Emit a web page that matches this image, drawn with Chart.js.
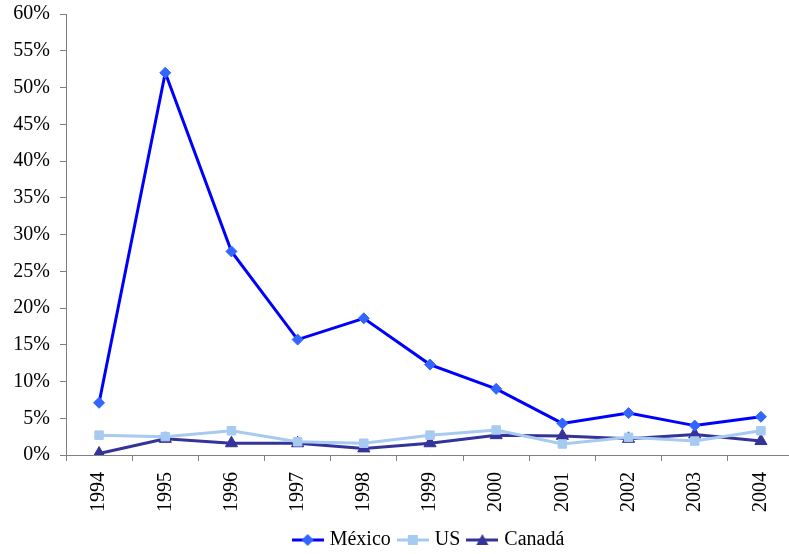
<!DOCTYPE html>
<html>
<head>
<meta charset="utf-8">
<script src="https://cdn.jsdelivr.net/npm/chart.js@4/dist/chart.umd.min.js"></script>
<style>
html,body{margin:0;padding:0;background:#fff;overflow:hidden;}
canvas{display:block;}
</style>
</head>
<body>
<canvas id="c" width="802" height="560" style="width:802px;height:560px;"></canvas>
<script>
const years = ['1994','1995','1996','1997','1998','1999','2000','2001','2002','2003','2004'];
const mexico = [7.1, 52.0, 27.7, 15.7, 18.6, 12.3, 9.0, 4.3, 5.7, 4.0, 5.2];
const us = [2.7, 2.5, 3.3, 1.8, 1.6, 2.7, 3.4, 1.5, 2.4, 1.9, 3.3];
const canada = [0.2, 2.2, 1.6, 1.6, 0.9, 1.6, 2.7, 2.6, 2.2, 2.8, 1.9];
const yTicksMax = 60, yStep = 5;

const FONT = "'Liberation Serif', 'Times New Roman', serif";
const FS = 20;

function legendIcon(lineColor, markerColor, shape){
  const c = document.createElement('canvas');
  c.width = 32; c.height = 14;
  const g = c.getContext('2d');
  g.strokeStyle = lineColor; g.lineWidth = 3;
  g.beginPath(); g.moveTo(0,7); g.lineTo(32,7); g.stroke();
  g.fillStyle = markerColor;
  g.beginPath();
  if(shape==='diamond'){ g.moveTo(16,1); g.lineTo(22,7); g.lineTo(16,13); g.lineTo(10,7); g.closePath(); }
  else if(shape==='square'){ g.rect(11,2,10,10); }
  else { g.moveTo(16,1); g.lineTo(22,12); g.lineTo(10,12); g.closePath(); }
  g.fill();
  return c;
}

const ds = [
  {label:'México', data:mexico, borderColor:'#0000FF', fill:'#3366FF', pointStyle:'rectRot', pointRadius:5.5, icon:legendIcon('#0000FF','#3366FF','diamond')},
  {label:'US', data:us, borderColor:'#A6CAF0', fill:'#A6CAF0', pointStyle:'rect', pointRadius:6, icon:legendIcon('#A6CAF0','#A6CAF0','square')},
  {label:'Canadá', data:canada, borderColor:'#333399', fill:'#333399', pointStyle:'triangle', pointRadius:7, icon:legendIcon('#333399','#333399','triangle')}
];

new Chart(document.getElementById('c'), {
  type:'line',
  data:{
    labels: years,
    datasets: ds.map(d=>({label:d.label, data:d.data, borderColor:d.borderColor, backgroundColor:d.fill, pointBackgroundColor:d.fill, pointBorderColor:d.fill, pointStyle:d.pointStyle, pointRadius:d.pointRadius, pointHoverRadius:d.pointRadius, borderWidth:3, pointBorderWidth:1, tension:0, fill:false}))
  },
  options:{
    responsive:false,
    devicePixelRatio:1,
    animation:false,
    layout:{padding:{top:14,left:0,right:0,bottom:0}},
    plugins:{
      tooltip:{enabled:false},
      legend:{
        position:'bottom',
        fullSize:false,
        labels:{
          font:{family:FONT,size:FS},
          color:'#000',
          usePointStyle:true,
          pointStyleWidth:24,
          boxHeight:14,
          padding:10,
          generateLabels:(chart)=>ds.map((d,i)=>({text:d.label, pointStyle:d.icon, fillStyle:d.fill, strokeStyle:d.borderColor, lineWidth:0, datasetIndex:i, hidden:false, fontColor:'#000'}))
        }
      }
    },
    scales:{
      x:{
        offset:true,
        grid:{display:true, drawOnChartArea:false, drawTicks:true, tickLength:6, offset:true, color:'#808080'},
        border:{display:true, color:'#808080', width:1},
        ticks:{font:{family:FONT,size:FS}, color:'#000', minRotation:90, maxRotation:90, padding:11},
        afterFit:(s)=>{s.height=65; s.paddingLeft=0; s.paddingRight=0;}
      },
      y:{
        min:0, max:yTicksMax,
        grid:{display:true, drawOnChartArea:false, drawTicks:true, tickLength:6, color:'#808080'},
        border:{display:true, color:'#808080', width:1},
        ticks:{stepSize:yStep, font:{family:FONT,size:FS}, color:'#000', padding:10, callback:(v)=>v+'%'},
        afterFit:(s)=>{s.width=66; s.paddingTop=0; s.paddingBottom=0;}
      }
    }
  }
});
</script>
</body>
</html>
